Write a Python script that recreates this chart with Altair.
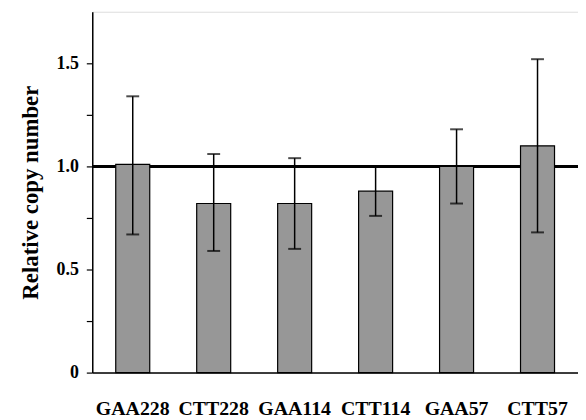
import altair as alt
import pandas as pd

categories = ["GAA228", "CTT228", "GAA114", "CTT114", "GAA57", "CTT57"]
values = [1.01, 0.82, 0.82, 0.88, 1.00, 1.10]
err_low = [0.67, 0.59, 0.60, 0.76, 0.82, 0.68]
err_high = [1.34, 1.06, 1.04, 1.00, 1.18, 1.52]
y_ticks = [0, 0.25, 0.5, 0.75, 1.0, 1.25, 1.5]

df = pd.DataFrame({"cat": categories, "val": values, "lo": err_low, "hi": err_high})

FONT = "Liberation Serif"

x = alt.X("cat:N", sort=categories, title=None,
          scale=alt.Scale(paddingInner=0.58, paddingOuter=0.29),
          axis=alt.Axis(labelAngle=0, ticks=False, labelPadding=26, labelFont=FONT,
                        labelFontSize=20, labelFontWeight="bold", labelColor="black",
                        domainColor="black", domainWidth=1.5))
yscale = alt.Scale(domain=[0, 1.75], nice=False)
yaxis = alt.Axis(values=y_ticks, grid=False, tickSize=6, tickColor="black", tickWidth=1.2,
                 domainColor="black", domainWidth=1.5,
                 labelExpr="datum.value == 0 ? '0' : (datum.value * 2 % 1 == 0 ? format(datum.value, '.1f') : '')",
                 labelFont=FONT, labelFontSize=18, labelFontWeight="bold", labelColor="black",
                 labelPadding=8,
                 title="Relative copy number", titleFont=FONT, titleFontSize=23,
                 titleFontWeight="bold", titleColor="black", titlePadding=14)

base = alt.Chart(df)

ref = base.mark_rule(color="black", strokeWidth=3).encode(y=alt.datum(1.0, scale=yscale, axis=yaxis))
bars = base.mark_bar(color="#979797", stroke="black", strokeWidth=1.2).encode(
    x=x, y=alt.Y("val:Q", scale=yscale, axis=yaxis))
rules = base.mark_rule(color="black", strokeWidth=1.5).encode(
    x=x, y=alt.Y("lo:Q", scale=yscale), y2="hi:Q")
cap_lo = base.mark_tick(color="black", thickness=2, size=13, orient="horizontal").encode(
    x=x, y=alt.Y("lo:Q", scale=yscale))
cap_hi = base.mark_tick(color="black", thickness=2, size=13, orient="horizontal").encode(
    x=x, y=alt.Y("hi:Q", scale=yscale))

chart = alt.layer(ref, bars, rules, cap_lo, cap_hi).properties(
    width=490, height=364,
    autosize=alt.AutoSizeParams(type="none"),
    padding={"left": 85, "top": 2, "right": 0, "bottom": 44},
).configure_view(stroke=None).configure(background="white")

chart.save("out.html", embed_options={"renderer": "svg", "actions": False})
